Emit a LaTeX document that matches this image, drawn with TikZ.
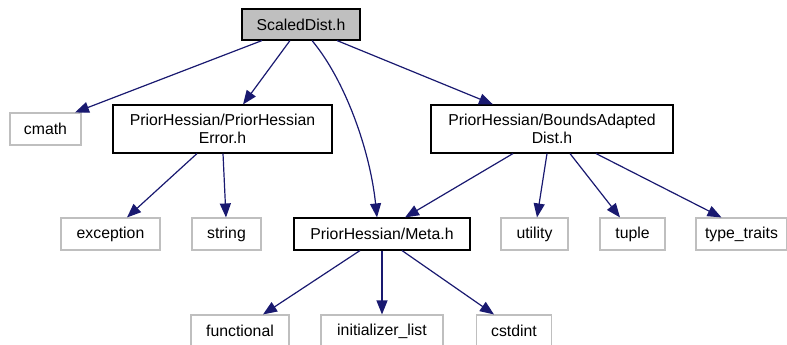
\documentclass[tikz,border=0pt]{standalone}
\usepackage{fontspec}
\setmainfont{Liberation Sans}
\usetikzlibrary{arrows.meta}
\definecolor{edgeblue}{HTML}{191970}
\definecolor{boxgray}{HTML}{BFBFBF}
\begin{document}
\begin{tikzpicture}[x=1pt,y=-1pt,
  base/.style={inner sep=0pt,align=center,font=\fontsize{15.8}{17.5}\selectfont,line width=1.1pt},
  mainbox/.style={base,draw=black,fill=boxgray},
  hbox/.style={base,draw=black,fill=white},
  sysbox/.style={base,draw=boxgray,fill=white},
  dep/.style={draw=edgeblue,line width=1.2pt,-{Triangle[length=14pt,width=11pt]}}]
\useasboundingbox (0,0) rectangle (787,345);
\node[mainbox,minimum width=118pt,minimum height=31pt] (sd) at (301,24.5) {ScaledDist.h};
\node[sysbox,minimum width=71pt,minimum height=32pt] (cmath) at (45.5,129) {cmath};
\node[hbox,minimum width=219pt,minimum height=48pt] (phe) at (222.5,129) {PriorHessian/PriorHessian\\Error.h};
\node[hbox,minimum width=242pt,minimum height=48pt] (bad) at (552,129) {PriorHessian/BoundsAdapted\\Dist.h};
\node[sysbox,minimum width=99pt,minimum height=32pt] (exc) at (110.5,234) {exception};
\node[sysbox,minimum width=69pt,minimum height=32pt] (str) at (226.5,234) {string};
\node[hbox,minimum width=176pt,minimum height=32pt] (meta) at (382,234) {PriorHessian/Meta.h};
\node[sysbox,minimum width=67pt,minimum height=32pt] (util) at (534.5,234) {utility};
\node[sysbox,minimum width=65pt,minimum height=32pt] (tup) at (632.5,234) {tuple};
\node[sysbox,minimum width=91pt,minimum height=32pt] (tt) at (741.5,234) {type\_traits};
\node[sysbox,minimum width=98pt,minimum height=32pt] (func) at (240,331) {functional};
\node[sysbox,minimum width=122pt,minimum height=32pt] (init) at (382,331) {initializer\_list};
\node[sysbox,minimum width=75pt,minimum height=32pt] (cst) at (514,331) {cstdint};
\draw[dep] ([xshift=-39pt]sd.south) -- ([xshift=29.5pt]cmath.north);
\draw[dep] ([xshift=-11pt]sd.south) -- ([xshift=20.5pt]phe.north);
\draw[dep] ([xshift=11pt]sd.south) .. controls (345,80) and (370,150) .. ([xshift=-5pt]meta.north);
\draw[dep] ([xshift=36pt]sd.south) -- ([xshift=-59pt]bad.north);
\draw[dep] ([xshift=-25.5pt]phe.south) -- ([xshift=16.5pt]exc.north);
\draw[dep] ([xshift=0.5pt]phe.south) -- ([xshift=-0.5pt]str.north);
\draw[dep] ([xshift=-39pt]bad.south) -- ([xshift=23pt]meta.north);
\draw[dep] ([xshift=-5pt]bad.south) -- ([xshift=2.5pt]util.north);
\draw[dep] ([xshift=18pt]bad.south) -- ([xshift=-12.5pt]tup.north);
\draw[dep] ([xshift=44pt]bad.south) -- ([xshift=-20pt]tt.north);
\draw[dep] ([xshift=-22pt]meta.south) -- ([xshift=23pt]func.north);
\draw[dep] (meta.south) -- (init.north);
\draw[dep] ([xshift=20pt]meta.south) -- ([xshift=-20pt]cst.north);
\end{tikzpicture}
\end{document}
